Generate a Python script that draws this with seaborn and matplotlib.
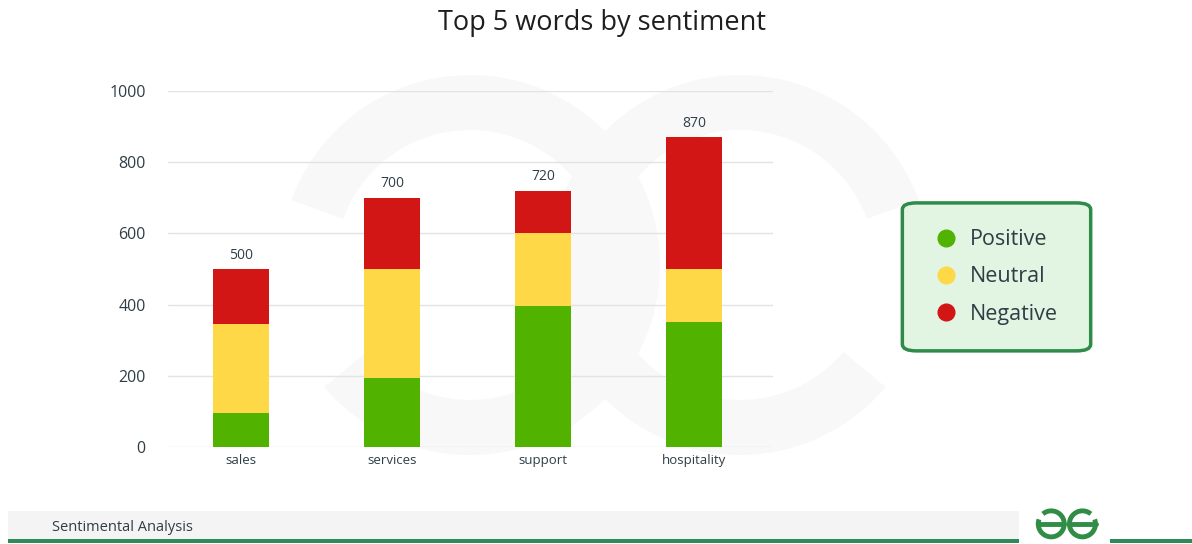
import numpy as np
import pandas as pd
import matplotlib.pyplot as plt
from matplotlib.lines import Line2D
from matplotlib.patches import FancyBboxPatch, Arc, Rectangle, Wedge
import seaborn as sns

# data
words = ["sales", "services", "support", "hospitality"]
positive = [95, 195, 395, 350]
neutral = [250, 305, 205, 150]
negative = [155, 200, 120, 370]
totals = [500, 700, 720, 870]

sns.set_theme(style="white")
plt.rcParams["font.family"] = ["Open Sans", "DejaVu Sans"]

GREEN = "#52b200"
YELLOW = "#fed846"
RED = "#d21515"
TEXT = "#2f3e46"

df = pd.DataFrame({"word": words, "Positive": positive,
                   "Neutral": neutral, "Negative": negative})

fig = plt.figure(figsize=(11.92, 5.44), dpi=100)
fig.patch.set_facecolor("white")

# faint watermark logo behind the chart (own axes, pixel-like units)
bg = fig.add_axes([0, 0, 1, 1], zorder=-5)
bg.set_xlim(0, 1192)
bg.set_ylim(544, 0)
bg.axis("off")
bg.add_patch(Wedge((470, 265), 190, 200, 500, width=55,
                   facecolor="#f7f8f7", edgecolor="none"))
bg.add_patch(Wedge((740, 265), 190, 40, 340, width=55,
                   facecolor="#f7f8f7", edgecolor="none"))

ax = fig.add_axes([0.141, 0.178, 0.5075, 0.655])
ax.set_facecolor("none")

bar_w = 0.37
sns.barplot(data=df, x="word", y="Positive", color=GREEN, width=bar_w,
            saturation=1, ax=ax, zorder=3, linewidth=0)
sns.barplot(data=df, x="word", y="Neutral", color=YELLOW, width=bar_w,
            saturation=1, ax=ax, zorder=3, linewidth=0,
            bottom=df["Positive"])
sns.barplot(data=df, x="word", y="Negative", color=RED, width=bar_w,
            saturation=1, ax=ax, zorder=3, linewidth=0,
            bottom=df["Positive"] + df["Neutral"])

for i, t in enumerate(totals):
    ax.text(i, t + 18, str(t), ha="center", va="bottom",
            fontsize=10, color=TEXT)

ax.set_ylim(0, 1000)
ax.set_xlim(-0.48, 3.52)
ax.set_yticks(range(0, 1001, 200))
ax.grid(axis="y", color="#e3e3e3", linewidth=1, zorder=0)
for s in ax.spines.values():
    s.set_visible(False)
ax.tick_params(axis="y", length=0, pad=16, labelsize=11.5, labelcolor=TEXT)
ax.tick_params(axis="x", length=0, pad=5, labelsize=9.5, labelcolor=TEXT)
ax.set_xlabel("")
ax.set_ylabel("")

fig.text(0.505, 0.958, "Top 5 words by sentiment", ha="center", va="center",
         fontsize=19.5, fontweight="medium", color="#1e1e1e")

# legend box
box = FancyBboxPatch((0.757, 0.355), 0.158, 0.272,
                     boxstyle="round,pad=0,rounding_size=0.012",
                     transform=fig.transFigure, facecolor="#e2f5e2",
                     edgecolor="#2e8b4a", linewidth=2.5, zorder=1)
fig.patches.append(box)
handles = [Line2D([], [], marker="o", linestyle="", markersize=12,
                  markerfacecolor=c, markeredgecolor=c)
           for c in [GREEN, YELLOW, RED]]
fig.legend(handles, ["Positive", "Neutral", "Negative"],
           loc="center", bbox_to_anchor=(0.835, 0.491), frameon=False,
           fontsize=15.5, labelcolor=TEXT, handletextpad=0.5,
           labelspacing=0.75, handlelength=1.2)

# footer band
fig.patches.append(Rectangle((0.007, 0.008), 0.848, 0.052,
                             transform=fig.transFigure,
                             facecolor="#f4f4f4", edgecolor="none"))
fig.patches.append(Rectangle((0.007, 0.002), 0.848, 0.008,
                             transform=fig.transFigure,
                             facecolor="#2e8b57", edgecolor="none"))
fig.patches.append(Rectangle((0.931, 0.002), 0.069, 0.008,
                             transform=fig.transFigure,
                             facecolor="#2e8b57", edgecolor="none"))
fig.text(0.044, 0.031, "Sentimental Analysis", ha="left", va="center",
         fontsize=10.5, color=TEXT)

# small logo
lax = fig.add_axes([0.865, 0.005, 0.06, 0.07])
lax.set_xlim(0, 2.2)
lax.set_ylim(0, 1.1)
lax.set_aspect("equal")
lax.axis("off")
lax.add_patch(Arc((0.62, 0.5), 0.8, 0.8, theta1=-200, theta2=130,
                  color="#2f8d46", linewidth=3.5))
lax.plot([0.2, 1.02], [0.5, 0.5], color="#2f8d46", linewidth=3.5)
lax.add_patch(Arc((1.58, 0.5), 0.8, 0.8, theta1=50, theta2=380,
                  color="#2f8d46", linewidth=3.5))
lax.plot([1.18, 2.0], [0.5, 0.5], color="#2f8d46", linewidth=3.5)

fig.savefig("out.png", dpi=100)
